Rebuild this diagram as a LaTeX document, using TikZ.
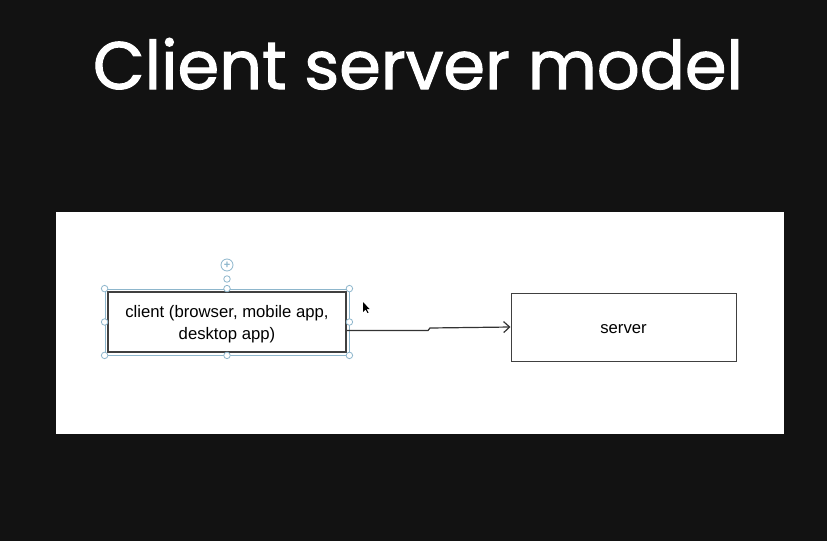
\documentclass[tikz,border=0pt]{standalone}
\usepackage{fontspec}
\setmainfont{Liberation Sans}
\newfontfamily\titlefont[RawFeature={embolden=1.6}]{Poppins}
\usetikzlibrary{arrows}
\usetikzlibrary{arrows.meta}
\usetikzlibrary{calc}
\usetikzlibrary{positioning}
\definecolor{slide}{HTML}{121212}
\definecolor{handle}{HTML}{8DB6CC}
\newcommand{\lowered}[1]{\raisebox{-2pt}[\height][\depth]{#1}}

\begin{document}
\begin{tikzpicture}[x=1pt,y=-1pt,
    box/.style={draw=black!75,align=center,inner sep=0pt,
      font=\fontsize{16.7}{23}\selectfont},
    knob/.style={draw=handle,fill=white,circle,line width=0.8pt,
      inner sep=0pt,minimum size=6.5pt}]
     % background and slide
     \fill[slide] (0,0) rectangle (827,541);
     \fill[white] (56,212) rectangle (784,434);
     \node[text=white,anchor=base,font=\titlefont\fontsize{67}{80}\selectfont]
       (title) at (418,89) {Client server model};

     %boxes
     \node[box,line width=1.6pt,minimum width=238pt,minimum height=60pt]
       (client) at (227,322)
       {\lowered{\shortstack{client (browser, mobile app,\\[3pt]desktop app)}}};
     \node[box,line width=1pt,minimum width=225pt,minimum height=68pt]
       (server) at (623.5,327) {\lowered{server}};

     %selection frame
     \node[draw=handle,line width=0.8pt,minimum width=244pt,minimum height=66pt]
       (sel) at (client.center) {};
     \foreach \a in {north west,north,north east,east,south east,south,south west,west}
       {
         \node[knob] at (sel.\a) {};
       }
     \node[knob] (rot) at (227,279) {};
     \node[knob,minimum size=12pt,text=handle,font=\bfseries\fontsize{11}{11}\selectfont]
       (plus) at (227,265) {+};

     %arrow
     \coordinate (step) at (428,330.5);
     \draw[-{Straight Barb[length=6pt,width=11pt]},line width=1.2pt,black!80]
       ($(client.east)+(0,8.5)$) -- (step) -- ++(2,-2.5) -- (server.west);

     %cursor
     \fill (363,302) -- (363,312) -- (365.5,309.5) -- (367.5,313)
       -- (368.5,312.5) -- (366.5,309) -- (369.5,309) -- cycle;
\end{tikzpicture}
\end{document}
